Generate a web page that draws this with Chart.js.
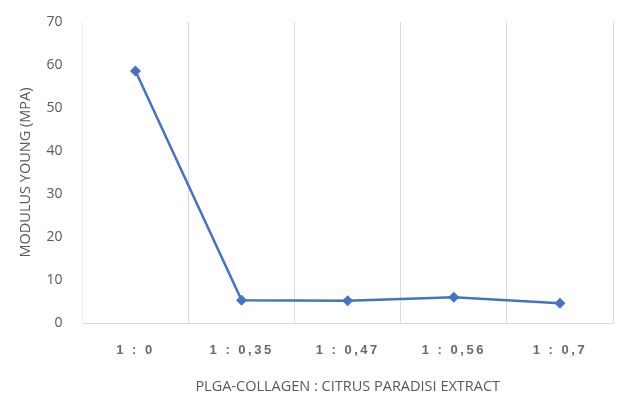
<!DOCTYPE html>
<html>
<head>
<meta charset="utf-8">
<script src="https://cdn.jsdelivr.net/npm/chart.js@4"></script>
<style>
    html, body { margin: 0; padding: 0; background: #fff; }
    #wrap { width: 625px; height: 396px; }
</style>
</head>
<body>
<div id="wrap"><canvas id="modulusChart" width="625" height="396"></canvas></div>
<script>
// ratio PLGA-collagen : citrus paradisi extract
const ratios = ['1 : 0', '1 : 0,35', '1 : 0,47', '1 : 0,56', '1 : 0,7'];
const modulus = [58.6, 5.3, 5.2, 6.0, 4.6];
const yTicks = [0, 10, 20, 30, 40, 50, 60, 70];

const grey = '#595959';

// spread out the x tick labels a bit, like the original
const spacedTicks = {
    id: 'spacedTicks',
    afterLayout(chart) {
        const s = chart.scales.x;
        if (s._spaced) return;
        const orig = s.drawLabels.bind(s);
        s.drawLabels = function(area) {
            chart.ctx.save();
            chart.ctx.letterSpacing = '2.5px';
            orig(area);
            chart.ctx.restore();
        };
        s._spaced = true;
    }
};

new Chart(document.getElementById('modulusChart').getContext('2d'), {
    type: 'line',
    data: {
        labels: ratios,
        datasets: [{
            data: modulus,
            borderColor: '#4472C4',
            backgroundColor: '#4472C4',
            borderWidth: 2.5,
            pointStyle: 'rectRot',
            pointRadius: 5.5,
            pointBorderWidth: 0,
            tension: 0
        }]
    },
    options: {
        responsive: false,
        animation: false,
        layout: { padding: { top: 22, right: 12, left: 13, bottom: 0 } },
        plugins: {
            legend: { display: false },
            tooltip: { enabled: false }
        },
        scales: {
            x: {
                offset: true,
                grid: { offset: true, color: '#d9d9d9', drawTicks: false },
                border: { color: '#d9d9d9' },
                ticks: {
                    color: '#686868',
                    padding: 20,
                    font: { family: 'Liberation Sans', size: 13, weight: 'bold' }
                },
                title: {
                    display: true,
                    text: 'PLGA-COLLAGEN : CITRUS PARADISI EXTRACT',
                    color: grey,
                    padding: { top: 0, bottom: 0 },
                    font: { family: 'Open Sans', size: 14.5 }
                }
            },
            y: {
                min: 0,
                max: 70,
                afterBuildTicks(scale) { scale.ticks = yTicks.map(v => ({ value: v })); },
                grid: { display: false },
                border: { display: true, color: '#eeeeee' },
                ticks: {
                    color: grey,
                    padding: 12,
                    font: { family: 'Open Sans', size: 14 }
                },
                title: {
                    display: true,
                    text: 'MODULUS YOUNG (MPA)',
                    color: grey,
                    padding: { bottom: 0 },
                    font: { family: 'Open Sans', size: 14.5 }
                }
            }
        }
    },
    plugins: [spacedTicks]
});
</script>
</body>
</html>
